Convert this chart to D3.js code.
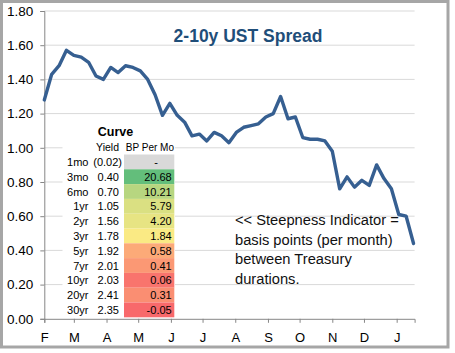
<!DOCTYPE html>
<html><head><meta charset="utf-8">
<script src="https://cdn.jsdelivr.net/npm/d3@7"></script>
<style>
html,body{margin:0;padding:0;background:#fff;}
svg{display:block;font-family:"Liberation Sans",Arial,sans-serif;}
</style>
</head><body>
<svg id="c" width="455" height="353"></svg>
<script>
// ---------- DATA ----------
const dates = [
  "2017-02-01","2017-02-08","2017-02-15","2017-02-22",
  "2017-03-01","2017-03-08","2017-03-15","2017-03-22","2017-03-29",
  "2017-04-05","2017-04-12","2017-04-19","2017-04-26",
  "2017-05-03","2017-05-10","2017-05-17","2017-05-24","2017-05-31",
  "2017-06-07","2017-06-14","2017-06-21","2017-06-28",
  "2017-07-05","2017-07-12","2017-07-19","2017-07-26",
  "2017-08-02","2017-08-09","2017-08-16","2017-08-23","2017-08-30",
  "2017-09-06","2017-09-13","2017-09-20","2017-09-27",
  "2017-10-04","2017-10-11","2017-10-18","2017-10-25",
  "2017-11-01","2017-11-08","2017-11-15","2017-11-22","2017-11-29",
  "2017-12-06","2017-12-13","2017-12-20","2017-12-27",
  "2018-01-03","2018-01-10","2018-01-17"
];
const spread = [
  1.28,1.43,1.48,1.57,
  1.54,1.53,1.50,1.42,1.40,
  1.47,1.44,1.48,1.47,
  1.45,1.40,1.31,1.19,1.26,
  1.19,1.15,1.07,1.08,
  1.04,1.09,1.07,1.03,
  1.09,1.12,1.13,1.14,1.18,
  1.20,1.30,1.17,1.18,
  1.06,1.05,1.05,1.04,
  0.98,0.76,0.83,0.77,0.81,
  0.78,0.90,0.82,0.76,
  0.61,0.60,0.44
];
const axisStart = "2017-02-01";
const axisEnd = "2018-01-18";
const monthLabels = ["F","M","A","M","J","J","A","S","O","N","D","J"];
const yTickValues = [0,0.2,0.4,0.6,0.8,1.0,1.2,1.4,1.6,1.8];

const tenors = ["1mo","3mo","6mo","1yr","2yr","3yr","5yr","7yr","10yr","20yr","30yr"];
const yields = [-0.02,0.40,0.70,1.05,1.56,1.78,1.92,2.01,2.03,2.41,2.35];
const bpPerMo = [null,20.68,10.21,5.79,4.20,1.84,0.58,0.41,0.06,0.31,-0.05];

const titleText = "2-10y UST Spread";
const noteLines = ["<< Steepness Indicator =","basis points (per month)","between Treasury","durations."];

// ---------- DRAW ----------
const svg = d3.select("#c");
const parse = d3.timeParse("%Y-%m-%d");
const series = dates.map((d,i)=>({date:parse(d), v:spread[i]}));
const fmt2 = d3.formatLocale({decimal:".",thousands:",",grouping:[3],currency:["$",""],minus:"-"}).format(".2f");

const x = d3.scaleTime().domain([parse(axisStart), parse(axisEnd)]).range([44.3, 414.6]);
const y = d3.scaleLinear().domain([0,1.8]).range([318.8, 11]);

// outer frame
svg.append("rect").attr("x",1.5).attr("y",1.5).attr("width",446.5).attr("height",345.5)
  .attr("fill","#fff").attr("stroke","#a6a6a6").attr("stroke-width",3);

// gridlines
svg.append("g").selectAll("line").data(yTickValues.filter(v=>v>0)).join("line")
  .attr("x1",x.range()[0]).attr("x2",x.range()[1])
  .attr("y1",d=>y(d)).attr("y2",d=>y(d))
  .attr("stroke","#d9d9d9").attr("stroke-width",1);

// y axis
const yAxis = d3.axisLeft(y).tickValues(yTickValues).tickFormat(fmt2).tickSizeOuter(0).tickSize(4).tickPadding(7);
const gy = svg.append("g").attr("transform",`translate(${x.range()[0]},0)`).call(yAxis);
gy.select(".domain").attr("stroke","#868686");
gy.selectAll(".tick line").attr("stroke","#868686");
gy.selectAll("text").attr("font-size","13.5px").attr("fill","#000").attr("font-family","Liberation Sans, Arial, sans-serif");

// x axis
const monthTicks = d3.timeMonth.range(parse(axisStart), parse(axisEnd));
const xAxis = d3.axisBottom(x).tickValues(monthTicks).tickFormat((d,i)=>monthLabels[i]).tickSizeOuter(0).tickSize(4).tickPadding(10);
const gx = svg.append("g").attr("transform",`translate(0,${y(0)})`).call(xAxis);
gx.select(".domain").attr("stroke","#868686");
gx.selectAll(".tick line").attr("stroke","#868686");
gx.selectAll("text").attr("font-size","13px").attr("fill","#000").attr("font-family","Liberation Sans, Arial, sans-serif");

// line
svg.append("path").datum(series)
  .attr("d", d3.line().x(d=>x(d.date)).y(d=>y(d.v)))
  .attr("fill","none").attr("stroke","#365f91").attr("stroke-width",3.4)
  .attr("stroke-linejoin","round").attr("stroke-linecap","round");

// title
svg.append("text").attr("x",248).attr("y",41.5).attr("text-anchor","middle")
  .attr("font-size","17.5px").attr("font-weight","bold").attr("fill","#1f4e79").text(titleText);

// annotation
svg.append("g").selectAll("text").data(noteLines).join("text")
  .attr("x",235).attr("y",(d,i)=>225+i*19.6)
  .attr("font-size","14.7px").attr("fill","#111").text(d=>d);

// table
const tbl = svg.append("g");
tbl.append("rect").attr("x",62.5).attr("y",118).attr("width",112.5).attr("height",200).attr("fill","#fff");
tbl.append("text").attr("x",115.5).attr("y",135.5).attr("text-anchor","middle")
  .attr("font-size","12.5px").attr("font-weight","bold").attr("fill","#000").text("Curve");
tbl.append("text").attr("x",119).attr("y",151).attr("text-anchor","end").attr("font-size","10.5px").text("Yield");
tbl.append("text").attr("x",174).attr("y",151).attr("text-anchor","end").attr("font-size","10px").text("BP Per Mo");

const vals = bpPerMo.filter(v=>v!==null);
const color = d3.scaleLinear()
  .domain([d3.min(vals), d3.quantile(vals.slice().sort(d3.ascending),0.5), d3.max(vals)])
  .range(["#f8696b","#ffeb84","#63be7b"]);

const rowH = 14.8, row0 = 154.5;
const rows = tbl.selectAll("g.row").data(tenors).join("g").attr("class","row")
  .attr("transform",(d,i)=>`translate(0,${row0+i*rowH})`);
rows.append("rect").attr("x",124).attr("y",0).attr("width",50.3).attr("height",rowH)
  .attr("fill",(d,i)=>bpPerMo[i]===null ? "#d9d9d9" : color(bpPerMo[i]));
rows.append("text").attr("x",88.5).attr("y",11.5).attr("text-anchor","end").attr("font-size","11px").text(d=>d);
rows.append("text").attr("x",(d,i)=>yields[i]<0?122:119).attr("y",11.5).attr("text-anchor","end").attr("font-size","11px")
  .text((d,i)=>yields[i]<0 ? "("+fmt2(-yields[i])+")" : fmt2(yields[i]));
rows.append("text").attr("x",(d,i)=>bpPerMo[i]===null?156:171.7).attr("y",11.5)
  .attr("text-anchor",(d,i)=>bpPerMo[i]===null?"middle":"end").attr("font-size","11px")
  .text((d,i)=>bpPerMo[i]===null ? "-" : fmt2(bpPerMo[i]));
</script>
</body></html>
